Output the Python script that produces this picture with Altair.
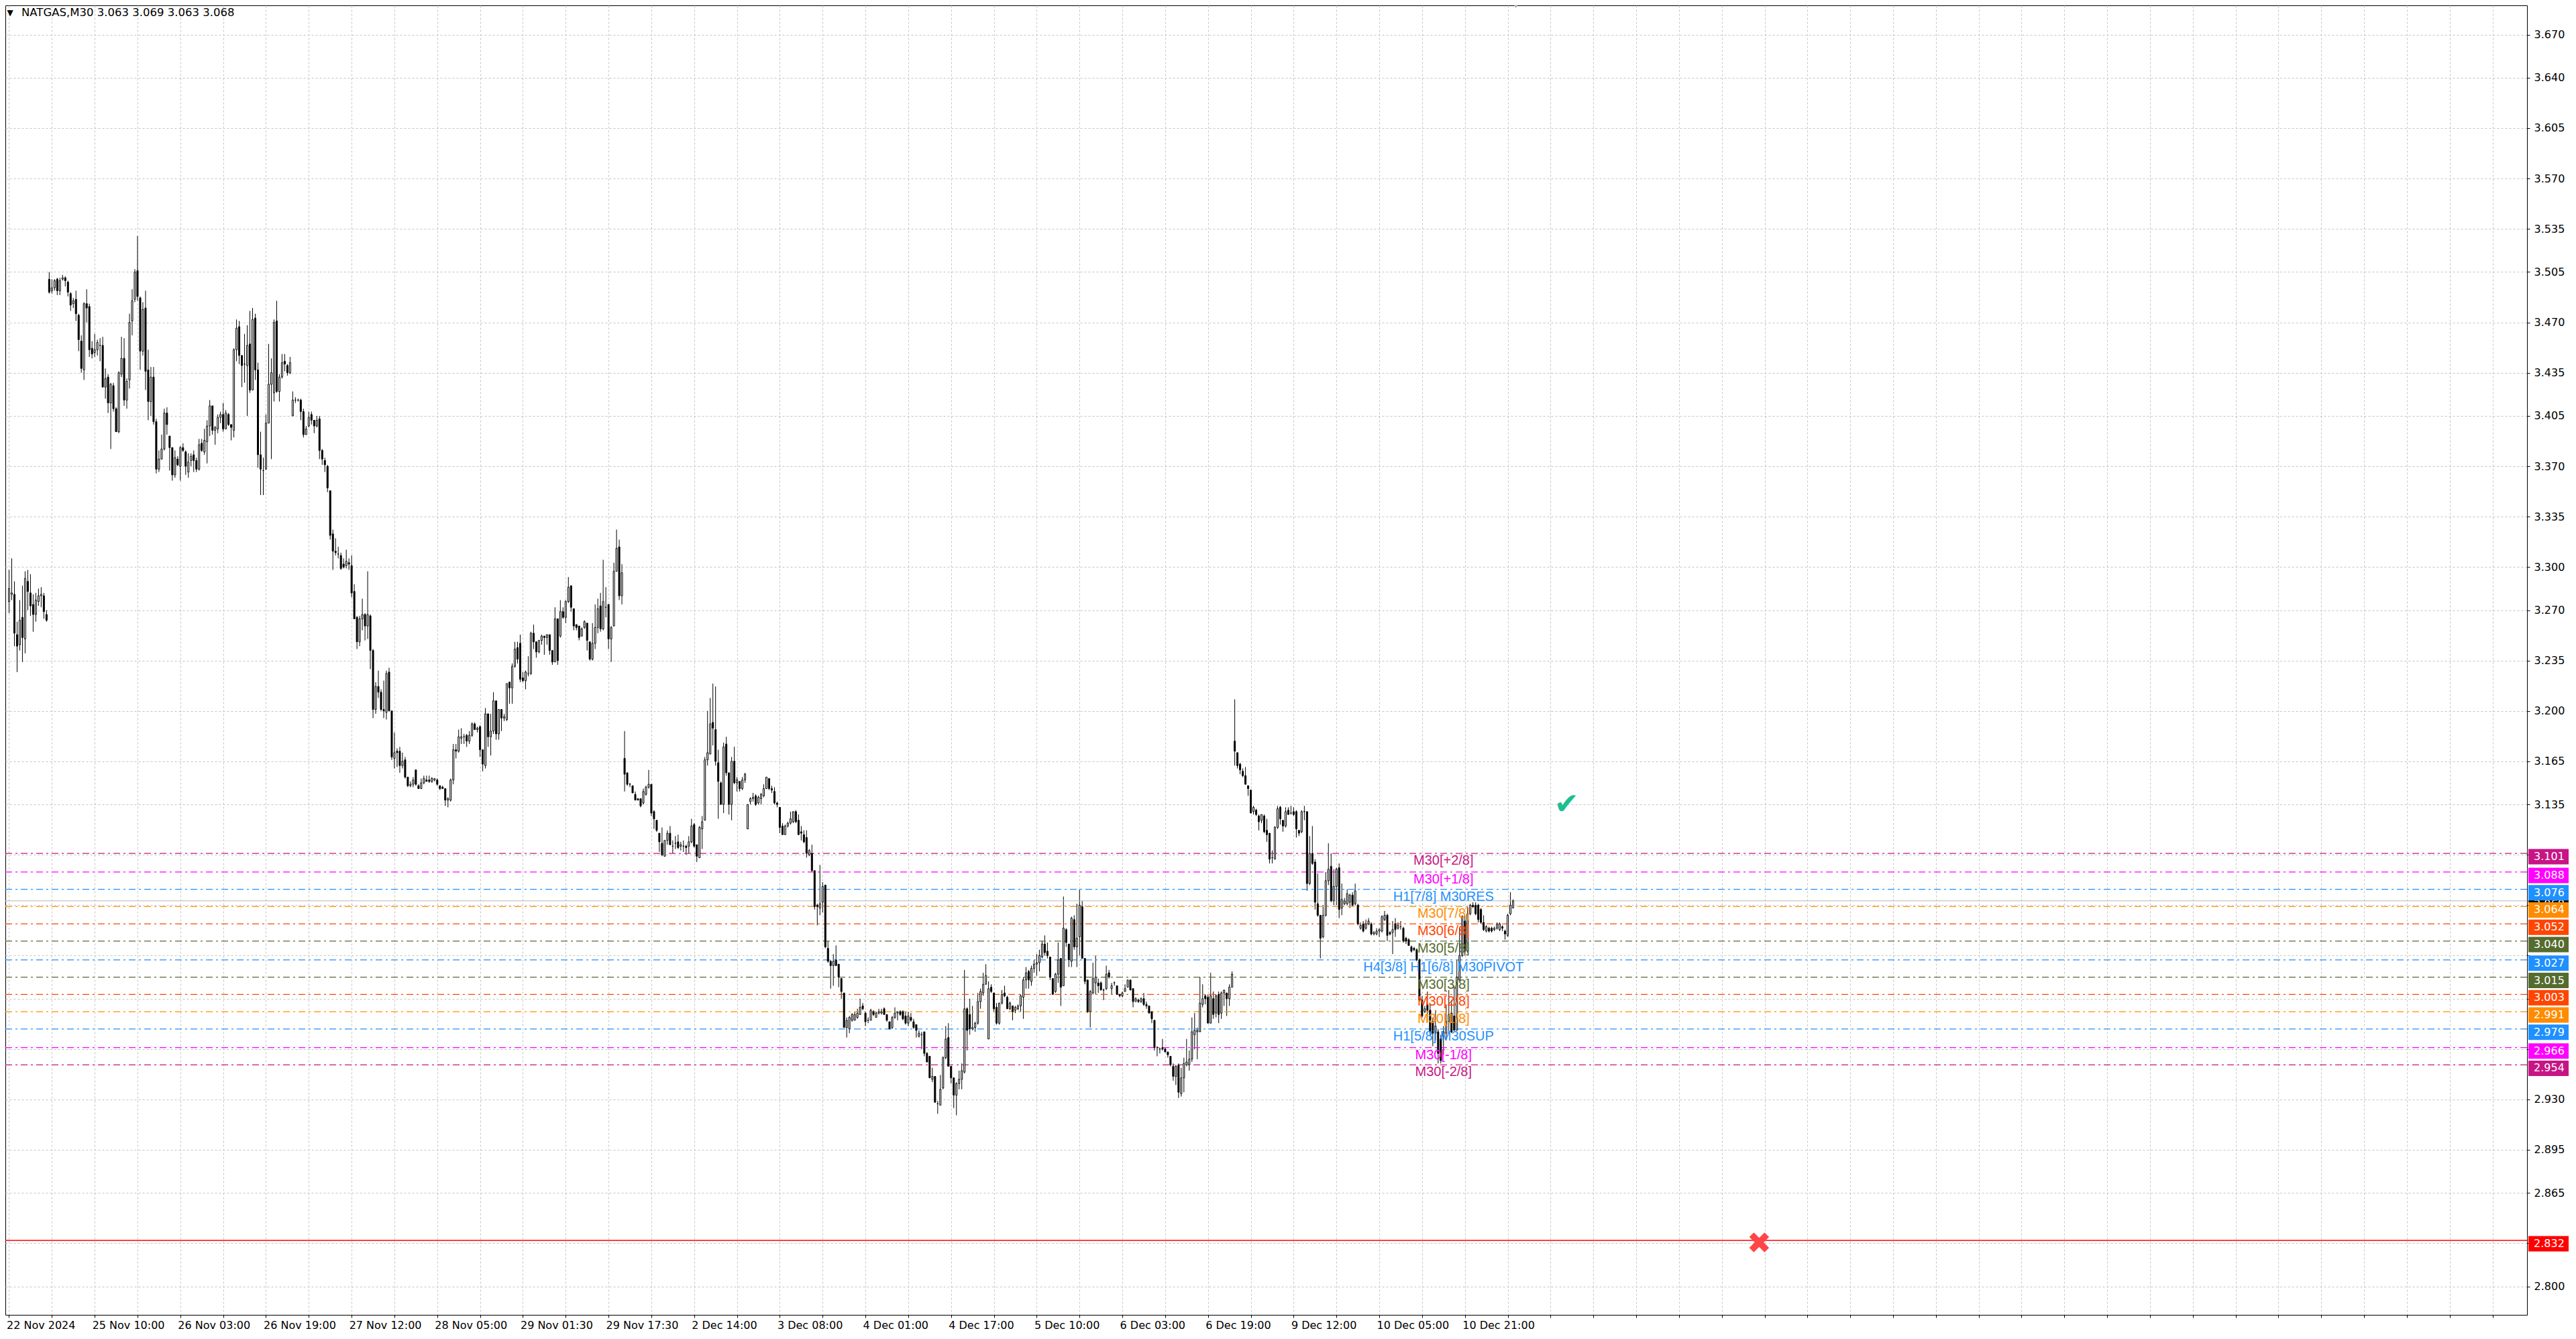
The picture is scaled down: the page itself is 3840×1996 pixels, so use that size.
import altair as alt
import pandas as pd

# NATGAS M30 candles, one per bar index, prices in thousandths
OPEN = [
    3276, 3281, 3281, 3253, 3246, 3265, 3250, 3290, 3282, 3274,
    3267, 3276, 3280, 3280, 3267, 3500, 3492, 3494, 3500, 3492,
    3500, 3501, 3498, 3490, 3483, 3486, 3475, 3457, 3437, 3483,
    3481, 3452, 3449, 3451, 3454, 3454, 3425, 3432, 3414, 3426,
    3410, 3394, 3434, 3445, 3416, 3430, 3471, 3486, 3506, 3487,
    3450, 3480, 3437, 3415, 3432, 3401, 3368, 3375, 3382, 3407,
    3391, 3383, 3364, 3375, 3370, 3383, 3380, 3366, 3374, 3378,
    3374, 3368, 3386, 3380, 3387, 3398, 3412, 3395, 3396, 3404,
    3406, 3396, 3406, 3399, 3395, 3451, 3467, 3447, 3441, 3440,
    3455, 3423, 3473, 3437, 3378, 3367, 3368, 3400, 3427, 3421,
    3471, 3422, 3432, 3443, 3440, 3435, 3405, 3416, 3416, 3416,
    3408, 3392, 3398, 3406, 3402, 3398, 3403, 3381, 3374, 3370,
    3353, 3323, 3311, 3309, 3308, 3302, 3301, 3303, 3301, 3283,
    3265, 3248, 3264, 3267, 3259, 3266, 3242, 3201, 3217, 3213,
    3201, 3199, 3227, 3200, 3167, 3172, 3172, 3162, 3166, 3154,
    3148, 3149, 3159, 3148, 3146, 3150, 3152, 3152, 3151, 3152,
    3152, 3148, 3147, 3146, 3138, 3138, 3152, 3173, 3172, 3181,
    3182, 3183, 3179, 3183, 3191, 3187, 3189, 3173, 3162, 3198,
    3182, 3186, 3207, 3184, 3201, 3195, 3194, 3220, 3216, 3231,
    3244, 3247, 3223, 3221, 3226, 3226, 3254, 3248, 3241, 3249,
    3252, 3251, 3253, 3242, 3234, 3264, 3252, 3269, 3265, 3276,
    3287, 3271, 3260, 3259, 3252, 3258, 3261, 3248, 3236, 3247,
    3258, 3273, 3257, 3272, 3274, 3250, 3259, 3297, 3314, 3280,
    3167, 3157, 3149, 3148, 3142, 3139, 3139, 3136, 3142, 3147,
    3149, 3130, 3124, 3115, 3108, 3099, 3110, 3115, 3106, 3108,
    3109, 3106, 3106, 3106, 3106, 3109, 3121, 3107, 3098, 3118,
    3124, 3166, 3170, 3192, 3187, 3164, 3150, 3135, 3177, 3157,
    3135, 3165, 3150, 3151, 3146, 3152, 3118, 3137, 3139, 3141,
    3136, 3139, 3141, 3146, 3153, 3146, 3144, 3136, 3133, 3120,
    3114, 3120, 3122, 3123, 3130, 3124, 3116, 3114, 3112, 3100,
    3101, 3089, 3065, 3063, 3067, 3079, 3035, 3026, 3023, 3027,
    3024, 3014, 3004, 2980, 2979, 2985, 2985, 2987, 2989, 2995,
    2990, 2985, 2985, 2991, 2987, 2990, 2990, 2993, 2989, 2984,
    2980, 2987, 2990, 2991, 2991, 2988, 2983, 2987, 2984, 2982,
    2974, 2975, 2977, 2962, 2960, 2944, 2946, 2927, 2926, 2938,
    2959, 2973, 2953, 2945, 2933, 2941, 2944, 2949, 2993, 2989,
    2979, 2980, 2983, 2998, 3004, 3010, 2972, 3008, 3004, 2994,
    2983, 2997, 3004, 3001, 2993, 2995, 2992, 2993, 2995, 3001,
    3013, 3019, 3012, 3021, 3024, 3025, 3029, 3038, 3033, 3029,
    3014, 3005, 3017, 3028, 3009, 3048, 3038, 3026, 3055, 3036,
    3043, 3064, 3028, 3013, 2991, 3004, 3011, 3011, 3011, 3006,
    3007, 3018, 3007, 3011, 3009, 3003, 3002, 3005, 3008, 3013,
    3007, 2998, 2999, 2998, 3000, 2996, 2995, 2991, 2985, 2966,
    2965, 2966, 2965, 2963, 2960, 2953, 2946, 2954, 2934, 2945,
    2954, 2954, 2958, 2975, 2977, 2977, 2996, 3002, 3001, 2983,
    3000, 2990, 3003, 2990, 3004, 3004, 3000, 3008, 3179, 3171,
    3163, 3158, 3155, 3148, 3145, 3130, 3131, 3127, 3124, 3127,
    3117, 3115, 3098, 3097, 3119, 3133, 3124, 3120, 3131, 3129,
    3130, 3130, 3117, 3116, 3130, 3130, 3080, 3101, 3095, 3066,
    3058, 3043, 3058, 3082, 3092, 3068, 3078, 3091, 3063, 3066,
    3066, 3067, 3072, 3066, 3065, 3049, 3052, 3049, 3052, 3052,
    3045, 3045, 3047, 3047, 3055, 3058, 3046, 3046, 3052, 3049,
    3050, 3049, 3042, 3041, 3036, 3035, 3034, 3027, 2999, 2991,
    2996, 2992, 2984, 2976, 2977, 2972, 2974, 2976, 2984, 2990,
    2988, 2978, 3013, 3030, 3054, 3033, 3059, 3065, 3065, 3065,
    3062, 3053, 3047, 3049, 3049, 3048, 3049, 3048, 3050, 3047,
    3044, 3059, 3063,
]
HIGH = [
    3298, 3306, 3290, 3262, 3277, 3287, 3297, 3298, 3295, 3281,
    3282, 3285, 3286, 3282, 3270, 3505, 3500, 3500, 3501, 3501,
    3503, 3502, 3499, 3491, 3487, 3492, 3476, 3461, 3484, 3493,
    3483, 3457, 3462, 3458, 3459, 3460, 3438, 3434, 3428, 3428,
    3411, 3436, 3460, 3459, 3431, 3476, 3493, 3507, 3530, 3488,
    3484, 3492, 3451, 3439, 3439, 3403, 3381, 3392, 3410, 3411,
    3391, 3383, 3381, 3377, 3384, 3386, 3381, 3379, 3379, 3381,
    3376, 3389, 3389, 3396, 3402, 3416, 3412, 3398, 3406, 3408,
    3414, 3409, 3407, 3399, 3452, 3472, 3471, 3447, 3462, 3468,
    3478, 3480, 3476, 3442, 3394, 3376, 3406, 3455, 3445, 3472,
    3485, 3434, 3448, 3448, 3441, 3446, 3422, 3418, 3417, 3417,
    3410, 3398, 3408, 3408, 3402, 3405, 3405, 3382, 3376, 3371,
    3353, 3326, 3320, 3314, 3310, 3306, 3312, 3306, 3308, 3288,
    3266, 3266, 3278, 3268, 3297, 3267, 3243, 3220, 3228, 3215,
    3221, 3228, 3230, 3200, 3185, 3174, 3175, 3171, 3168, 3154,
    3151, 3154, 3159, 3149, 3153, 3155, 3155, 3155, 3154, 3153,
    3153, 3148, 3148, 3146, 3140, 3153, 3177, 3177, 3187, 3188,
    3184, 3184, 3186, 3192, 3192, 3189, 3190, 3173, 3202, 3198,
    3198, 3213, 3207, 3201, 3201, 3198, 3219, 3220, 3233, 3248,
    3248, 3253, 3227, 3228, 3238, 3255, 3260, 3248, 3249, 3253,
    3252, 3253, 3253, 3242, 3272, 3264, 3277, 3272, 3277, 3293,
    3287, 3271, 3260, 3259, 3258, 3263, 3261, 3248, 3261, 3274,
    3278, 3282, 3305, 3286, 3274, 3259, 3303, 3326, 3319, 3302,
    3186, 3157, 3150, 3148, 3144, 3139, 3139, 3146, 3148, 3159,
    3149, 3131, 3124, 3115, 3119, 3110, 3117, 3120, 3110, 3113,
    3114, 3109, 3110, 3107, 3113, 3125, 3122, 3107, 3120, 3127,
    3168, 3200, 3209, 3219, 3217, 3173, 3151, 3178, 3182, 3157,
    3168, 3175, 3154, 3151, 3154, 3157, 3135, 3140, 3143, 3142,
    3141, 3143, 3149, 3154, 3153, 3148, 3147, 3137, 3133, 3122,
    3121, 3123, 3130, 3130, 3131, 3128, 3120, 3117, 3117, 3104,
    3107, 3089, 3066, 3093, 3081, 3079, 3040, 3027, 3031, 3037,
    3024, 3014, 3004, 2987, 2988, 2990, 2991, 2993, 3000, 2997,
    2991, 2987, 2993, 2992, 2991, 2993, 2993, 2994, 2989, 2984,
    2988, 2994, 2991, 2992, 2992, 2991, 2991, 2990, 2986, 2982,
    2978, 2977, 2977, 2963, 2960, 2952, 2946, 2929, 2947, 2960,
    2981, 2983, 2953, 2945, 2942, 2950, 2955, 3020, 2994, 3000,
    2995, 2984, 3004, 3007, 3018, 3024, 3012, 3010, 3004, 2997,
    2997, 3006, 3009, 3002, 2998, 2995, 2995, 2996, 3003, 3015,
    3022, 3020, 3023, 3027, 3031, 3034, 3040, 3044, 3039, 3029,
    3014, 3018, 3039, 3028, 3071, 3049, 3038, 3057, 3058, 3066,
    3076, 3068, 3028, 3013, 3006, 3025, 3030, 3014, 3012, 3007,
    3023, 3020, 3011, 3012, 3009, 3003, 3005, 3010, 3013, 3013,
    3007, 3001, 3000, 3001, 3004, 2998, 2995, 2991, 2985, 2967,
    2966, 2972, 2966, 2963, 2960, 2955, 2954, 2955, 2952, 2959,
    2972, 2964, 2987, 2990, 2980, 3015, 3010, 3003, 3003, 3018,
    3005, 3003, 3005, 3005, 3006, 3004, 3010, 3019, 3208, 3171,
    3164, 3160, 3161, 3148, 3145, 3134, 3132, 3128, 3128, 3128,
    3125, 3115, 3103, 3120, 3134, 3134, 3124, 3133, 3133, 3134,
    3133, 3131, 3117, 3131, 3134, 3130, 3113, 3120, 3097, 3087,
    3058, 3065, 3088, 3108, 3101, 3090, 3091, 3094, 3080, 3070,
    3076, 3073, 3074, 3080, 3066, 3053, 3054, 3055, 3056, 3053,
    3047, 3049, 3049, 3058, 3061, 3059, 3047, 3054, 3056, 3053,
    3054, 3050, 3043, 3042, 3037, 3036, 3035, 3028, 3002, 2995,
    3005, 2996, 2987, 2992, 2979, 2975, 2981, 2996, 3006, 2999,
    3009, 3027, 3049, 3058, 3058, 3064, 3066, 3067, 3067, 3066,
    3063, 3058, 3051, 3050, 3050, 3050, 3053, 3053, 3051, 3048,
    3059, 3074, 3069,
]
LOW = [
    3268, 3277, 3245, 3227, 3242, 3234, 3240, 3270, 3266, 3255,
    3262, 3273, 3272, 3264, 3262, 3490, 3490, 3492, 3489, 3489,
    3499, 3495, 3488, 3478, 3480, 3471, 3450, 3435, 3430, 3470,
    3446, 3445, 3446, 3447, 3443, 3425, 3417, 3407, 3382, 3408,
    3394, 3393, 3432, 3412, 3410, 3424, 3461, 3484, 3485, 3437,
    3447, 3423, 3402, 3405, 3399, 3365, 3366, 3375, 3381, 3392,
    3367, 3360, 3362, 3370, 3360, 3380, 3364, 3362, 3370, 3366,
    3366, 3367, 3380, 3378, 3372, 3391, 3392, 3385, 3393, 3400,
    3394, 3396, 3398, 3388, 3390, 3443, 3441, 3425, 3428, 3405,
    3421, 3423, 3430, 3369, 3350, 3350, 3368, 3400, 3375, 3415,
    3421, 3415, 3431, 3436, 3433, 3434, 3405, 3414, 3415, 3402,
    3390, 3392, 3397, 3399, 3393, 3397, 3375, 3371, 3366, 3352,
    3319, 3298, 3308, 3306, 3298, 3299, 3299, 3298, 3279, 3264,
    3243, 3245, 3256, 3249, 3250, 3229, 3195, 3198, 3209, 3200,
    3195, 3194, 3200, 3166, 3160, 3161, 3157, 3160, 3153, 3147,
    3147, 3147, 3148, 3146, 3146, 3149, 3151, 3150, 3150, 3151,
    3148, 3145, 3146, 3134, 3133, 3137, 3149, 3167, 3171, 3177,
    3177, 3175, 3177, 3182, 3187, 3185, 3168, 3158, 3160, 3175,
    3169, 3184, 3180, 3180, 3186, 3193, 3193, 3205, 3205, 3230,
    3233, 3220, 3220, 3215, 3224, 3225, 3243, 3237, 3240, 3246,
    3239, 3246, 3239, 3232, 3234, 3232, 3251, 3264, 3261, 3275,
    3269, 3256, 3256, 3249, 3252, 3257, 3242, 3235, 3235, 3243,
    3254, 3255, 3256, 3265, 3243, 3234, 3259, 3297, 3277, 3274,
    3144, 3148, 3147, 3143, 3138, 3138, 3133, 3135, 3141, 3146,
    3127, 3118, 3116, 3102, 3099, 3099, 3107, 3107, 3101, 3104,
    3104, 3103, 3102, 3100, 3101, 3108, 3105, 3095, 3098, 3104,
    3124, 3162, 3170, 3176, 3162, 3125, 3135, 3129, 3155, 3128,
    3124, 3149, 3144, 3144, 3145, 3150, 3118, 3135, 3137, 3134,
    3135, 3135, 3140, 3146, 3145, 3143, 3135, 3133, 3115, 3114,
    3114, 3119, 3121, 3122, 3122, 3114, 3110, 3108, 3098, 3099,
    3088, 3062, 3051, 3058, 3060, 3035, 3025, 3007, 3009, 3023,
    3008, 3000, 2980, 2973, 2976, 2984, 2985, 2986, 2989, 2992,
    2981, 2983, 2985, 2988, 2987, 2989, 2989, 2989, 2984, 2979,
    2979, 2986, 2985, 2988, 2985, 2982, 2981, 2984, 2979, 2973,
    2973, 2965, 2960, 2956, 2945, 2942, 2928, 2920, 2926, 2937,
    2958, 2953, 2941, 2924, 2919, 2937, 2937, 2948, 2964, 2975,
    2978, 2977, 2982, 2993, 3002, 3010, 2972, 3004, 2991, 2982,
    2982, 2996, 3001, 2993, 2992, 2985, 2990, 2992, 2991, 2986,
    3007, 3007, 3009, 3018, 3016, 3019, 3028, 3030, 3028, 3013,
    3003, 3004, 3011, 2995, 3009, 3036, 3022, 3022, 3034, 3022,
    3030, 3028, 3010, 2990, 2980, 3003, 3003, 3004, 3006, 2999,
    3006, 3014, 3003, 3009, 3003, 3001, 3001, 3005, 3008, 3006,
    2994, 2998, 2997, 2997, 2995, 2993, 2990, 2983, 2964, 2960,
    2962, 2964, 2963, 2959, 2953, 2943, 2940, 2931, 2932, 2935,
    2953, 2950, 2956, 2965, 2958, 2977, 2994, 2996, 2983, 2983,
    2986, 2987, 2983, 2986, 2995, 2988, 2995, 3008, 3162, 3160,
    3156, 3154, 3149, 3141, 3129, 3128, 3127, 3117, 3122, 3115,
    3109, 3094, 3094, 3097, 3118, 3121, 3116, 3119, 3128, 3128,
    3127, 3112, 3113, 3115, 3124, 3075, 3079, 3093, 3062, 3057,
    3028, 3042, 3057, 3079, 3067, 3065, 3065, 3056, 3058, 3065,
    3065, 3063, 3064, 3065, 3051, 3048, 3046, 3048, 3051, 3044,
    3044, 3044, 3043, 3046, 3054, 3040, 3044, 3031, 3043, 3048,
    3048, 3039, 3038, 3037, 3032, 3033, 3026, 2998, 2987, 2990,
    2984, 2974, 2967, 2971, 2955, 2955, 2961, 2971, 2976, 2976,
    2978, 2978, 3012, 3029, 3030, 3032, 3058, 3063, 3058, 3053,
    3052, 3047, 3046, 3046, 3046, 3047, 3048, 3047, 3047, 3041,
    3043, 3058, 3063,
]
CLOSE = [
    3285, 3282, 3254, 3245, 3263, 3251, 3292, 3283, 3273, 3267,
    3277, 3280, 3281, 3269, 3263, 3491, 3494, 3499, 3492, 3499,
    3501, 3499, 3491, 3482, 3485, 3476, 3458, 3438, 3483, 3480,
    3451, 3448, 3451, 3456, 3454, 3425, 3431, 3414, 3427, 3410,
    3394, 3435, 3445, 3416, 3429, 3470, 3485, 3505, 3488, 3450,
    3479, 3436, 3415, 3432, 3401, 3368, 3375, 3382, 3407, 3399,
    3383, 3364, 3376, 3371, 3383, 3381, 3370, 3373, 3377, 3374,
    3368, 3385, 3381, 3388, 3398, 3412, 3395, 3397, 3404, 3406,
    3396, 3407, 3399, 3397, 3451, 3466, 3447, 3440, 3441, 3454,
    3423, 3472, 3437, 3378, 3368, 3367, 3400, 3427, 3435, 3470,
    3422, 3432, 3442, 3441, 3435, 3442, 3416, 3416, 3416, 3408,
    3392, 3396, 3404, 3402, 3398, 3402, 3381, 3375, 3371, 3355,
    3322, 3311, 3310, 3309, 3299, 3300, 3304, 3302, 3282, 3264,
    3248, 3264, 3267, 3259, 3267, 3242, 3201, 3217, 3213, 3201,
    3200, 3226, 3200, 3168, 3171, 3171, 3162, 3165, 3154, 3148,
    3149, 3152, 3149, 3146, 3150, 3153, 3151, 3151, 3153, 3153,
    3149, 3146, 3146, 3138, 3139, 3152, 3173, 3172, 3182, 3182,
    3182, 3179, 3183, 3191, 3187, 3188, 3173, 3163, 3198, 3182,
    3186, 3207, 3184, 3201, 3195, 3196, 3219, 3216, 3231, 3243,
    3236, 3222, 3221, 3227, 3226, 3254, 3248, 3241, 3249, 3252,
    3251, 3253, 3242, 3234, 3264, 3235, 3269, 3265, 3276, 3286,
    3272, 3259, 3258, 3251, 3257, 3262, 3249, 3236, 3247, 3258,
    3271, 3257, 3276, 3272, 3250, 3258, 3297, 3313, 3280, 3296,
    3156, 3149, 3149, 3143, 3138, 3138, 3134, 3144, 3147, 3149,
    3129, 3125, 3117, 3109, 3100, 3110, 3115, 3107, 3106, 3108,
    3105, 3107, 3106, 3105, 3109, 3120, 3106, 3099, 3119, 3123,
    3166, 3171, 3191, 3188, 3165, 3151, 3135, 3175, 3157, 3135,
    3165, 3150, 3152, 3146, 3152, 3156, 3135, 3139, 3140, 3135,
    3140, 3142, 3146, 3154, 3146, 3145, 3136, 3135, 3119, 3114,
    3120, 3122, 3125, 3130, 3123, 3114, 3115, 3109, 3101, 3103,
    3089, 3064, 3064, 3066, 3078, 3036, 3026, 3023, 3026, 3023,
    3015, 3005, 2980, 2985, 2987, 2989, 2989, 2990, 2994, 2993,
    2984, 2985, 2992, 2989, 2990, 2991, 2991, 2989, 2985, 2979,
    2987, 2990, 2991, 2989, 2986, 2983, 2988, 2985, 2980, 2978,
    2976, 2975, 2962, 2956, 2945, 2946, 2928, 2927, 2937, 2959,
    2972, 2953, 2945, 2933, 2941, 2944, 2950, 2993, 2978, 2979,
    2980, 2983, 2998, 3005, 3010, 3016, 3007, 3005, 2993, 2983,
    2997, 3003, 3002, 2993, 2997, 2991, 2994, 2995, 3002, 3013,
    3018, 3013, 3021, 3024, 3025, 3030, 3038, 3032, 3030, 3015,
    3003, 3017, 3027, 3008, 3049, 3039, 3027, 3056, 3036, 3042,
    3065, 3028, 3012, 2991, 3005, 3014, 3015, 3009, 3006, 3006,
    3017, 3015, 3009, 3011, 3003, 3002, 3004, 3007, 3013, 3006,
    2998, 3000, 2998, 3000, 2996, 2995, 2990, 2986, 2966, 2966,
    2965, 2965, 2963, 2961, 2954, 2946, 2953, 2935, 2945, 2955,
    2956, 2958, 2977, 2978, 2978, 2997, 3000, 3000, 2983, 3002,
    2989, 3002, 2989, 3004, 3006, 3000, 3008, 3017, 3172, 3162,
    3159, 3155, 3149, 3146, 3129, 3133, 3128, 3123, 3128, 3116,
    3114, 3097, 3098, 3119, 3132, 3125, 3120, 3130, 3128, 3129,
    3128, 3118, 3115, 3130, 3130, 3080, 3101, 3094, 3067, 3058,
    3042, 3058, 3082, 3090, 3068, 3078, 3090, 3062, 3069, 3068,
    3073, 3072, 3065, 3075, 3052, 3051, 3047, 3052, 3054, 3045,
    3046, 3047, 3048, 3057, 3058, 3044, 3045, 3048, 3048, 3051,
    3050, 3040, 3040, 3037, 3033, 3034, 3027, 2999, 2988, 2993,
    2992, 2977, 2976, 2981, 2962, 2957, 2977, 2984, 2989, 2977,
    2978, 3015, 3030, 3057, 3033, 3059, 3065, 3064, 3059, 3055,
    3053, 3048, 3050, 3047, 3047, 3049, 3052, 3052, 3049, 3045,
    3058, 3065, 3068,
]

TITLE_TEXT = "NATGAS,M30  3.063 3.069 3.063 3.068"

# bottom axis: one label every 32 bars, grid every 16 bars
TIME_LABELS = ["22 Nov 2024", "25 Nov 10:00", "26 Nov 03:00", "26 Nov 19:00",
               "27 Nov 12:00", "28 Nov 05:00", "29 Nov 01:30", "29 Nov 17:30",
               "2 Dec 14:00", "3 Dec 08:00", "4 Dec 01:00", "4 Dec 17:00",
               "5 Dec 10:00", "6 Dec 03:00", "6 Dec 19:00", "9 Dec 12:00",
               "10 Dec 05:00", "10 Dec 21:00"]
LABEL_STEP = 32
GRID_STEP = 16

PRICE_TICKS = [3.670, 3.640, 3.605, 3.570, 3.535, 3.505, 3.470, 3.435, 3.405,
               3.370, 3.335, 3.300, 3.270, 3.235, 3.200, 3.165, 3.135, 3.100,
               3.065, 3.030, 3.000, 2.965, 2.930, 2.895, 2.865, 2.830, 2.800]
HIDDEN_TICKS = [3.100, 3.065, 3.030, 3.000, 2.965, 2.830]

# Murrey math levels
LEVEL_NAMES = ["M30[+2/8]", "M30[+1/8]", "H1[7/8] M30RES", "M30[7/8]", "M30[6/8]",
               "M30[5/8]", "H4[3/8] H1[6/8] M30PIVOT", "M30[3/8]", "M30[2/8]",
               "M30[1/8]", "H1[5/8] M30SUP", "M30[-1/8]", "M30[-2/8]"]
LEVEL_PRICES = [3.101, 3.088, 3.076, 3.064, 3.052, 3.040, 3.027, 3.015, 3.003,
                2.991, 2.979, 2.966, 2.954]
LEVEL_COLORS = ["#c71585", "#ff00ff", "#1e90ff", "#ff8c00", "#ff4500", "#556b2f",
                "#1e90ff", "#556b2f", "#ff4500", "#ff8c00", "#1e90ff", "#ff00ff",
                "#c71585"]
LEVEL_LABEL_BAR = 536

BID_PRICE = 3.068
STOP_PRICE = 2.832
SHIFT_BAR = 563

MARK_BARS = [582, 654]
MARK_PRICES = [3.1346, 2.8292]
MARK_GLYPHS = ["\u2714", "\u2716"]
MARK_COLORS = ["#1dbf8f", "#ff4545"]

W, H = 3759, 1952
PX_PER_PRICE = H / (3.6903 - 2.7803)

candles = pd.DataFrame({
    "bar": range(len(OPEN)),
    "open": [v / 1000 for v in OPEN],
    "high": [v / 1000 for v in HIGH],
    "low": [v / 1000 for v in LOW],
    "close": [v / 1000 for v in CLOSE],
})
levels = pd.DataFrame({"name": LEVEL_NAMES, "price": LEVEL_PRICES,
                       "color": LEVEL_COLORS, "bar": LEVEL_LABEL_BAR})
marks = pd.DataFrame({"bar": MARK_BARS, "price": MARK_PRICES,
                      "glyph": MARK_GLYPHS, "color": MARK_COLORS})


def tag_frame(prices, colors):
    df = pd.DataFrame({"price": prices, "color": colors})
    df["label"] = df["price"].map(lambda p: f"{p:.3f}")
    return df


bid_tag = tag_frame([BID_PRICE], ["#000000"])
level_tags = tag_frame(LEVEL_PRICES + [STOP_PRICE], LEVEL_COLORS + ["#ff0000"])

xs = alt.Scale(domain=[-0.125, -0.125 + W / 4], nice=False, zero=False)
ys = alt.Scale(domain=[2.7803, 3.6903], nice=False, zero=False)

js_labels = "[" + ",".join(f"'{t}'" for t in TIME_LABELS) + "]"
x_label_expr = (f"datum.value % {LABEL_STEP} == 0 && datum.value / {LABEL_STEP} < {len(TIME_LABELS)}"
                f" ? {js_labels}[datum.value / {LABEL_STEP}] : ''")
hidden_js = "[" + ",".join(str(v) for v in HIDDEN_TICKS) + "]"
y_label_expr = f"indexof({hidden_js}, datum.value) >= 0 ? '' : format(datum.value, '.3f')"

x_axis = alt.Axis(values=list(range(0, 940, GRID_STEP)), labelExpr=x_label_expr,
                  labelAlign="left", labelBaseline="top", labelPadding=3, labelOffset=-4,
                  labelFont="DejaVu Sans", labelFontSize=16, labelColor="black",
                  labelOverlap=False, labelFlush=False, tickSize=4, tickColor="black",
                  domainColor="black", grid=True, gridColor="#c4c4c4", gridDash=[3, 3])
y_axis = alt.Axis(orient="right", values=PRICE_TICKS, labelExpr=y_label_expr,
                  labelPadding=6, labelFont="DejaVu Sans", labelFontSize=16,
                  labelColor="black", labelOverlap=False, labelFlush=False,
                  tickSize=4, tickColor="black", domainColor="black",
                  grid=True, gridColor="#c4c4c4", gridDash=[3, 3])

# candle wicks carry the axes
wicks = alt.Chart(candles).mark_rule(color="black", strokeWidth=1).encode(
    x=alt.X("bar:Q", scale=xs, axis=x_axis, title=None),
    y=alt.Y("low:Q", scale=ys, axis=y_axis, title=None),
    y2="high:Q",
)
bodies = alt.Chart(candles).mark_bar(width=2, stroke="black", strokeWidth=1).encode(
    x=alt.X("bar:Q", title=None),
    y=alt.Y("open:Q", title=None),
    y2="close:Q",
    fill=alt.condition("datum.close > datum.open", alt.value("white"), alt.value("black")),
)

bid_line = alt.Chart(pd.DataFrame({"price": [BID_PRICE]})).mark_rule(
    color="#b8b8b8", strokeWidth=1).encode(y=alt.Y("price:Q", title=None))
level_lines = alt.Chart(levels).mark_rule(strokeWidth=1.2, strokeDash=[10, 5, 3, 5]).encode(
    y=alt.Y("price:Q", title=None),
    color=alt.Color("color:N", scale=None),
)
stop_line = alt.Chart(pd.DataFrame({"price": [STOP_PRICE]})).mark_rule(
    color="#ff0000", strokeWidth=1.5).encode(y=alt.Y("price:Q", title=None))

level_text = alt.Chart(levels).mark_text(
    align="center", baseline="top", dy=1, font="Liberation Sans", fontSize=20
).encode(
    x=alt.X("bar:Q", title=None),
    y=alt.Y("price:Q", title=None),
    text="name:N",
    color=alt.Color("color:N", scale=None),
)

mark_glyphs = alt.Chart(marks).mark_text(
    align="center", baseline="middle", font="DejaVu Sans", fontSize=44
).encode(
    x=alt.X("bar:Q", title=None),
    y=alt.Y("price:Q", title=None),
    text="glyph:N",
    color=alt.Color("color:N", scale=None),
)

# chart shift marker on the top edge
shift_mark = alt.Chart(pd.DataFrame({"bar": [SHIFT_BAR]})).mark_point(
    shape="triangle-down", filled=True, color="#a8a8a8", size=50, opacity=1
).encode(x=alt.X("bar:Q", title=None), y=alt.value(1))

# price tags on the right scale
box_half = 11.5 / PX_PER_PRICE
box_shift = 5 / PX_PER_PRICE


def tag_layers(df):
    boxes = alt.Chart(df).transform_calculate(
        top=f"datum.price + {box_half} - {box_shift}",
        bottom=f"datum.price - {box_half} - {box_shift}",
    ).mark_rect().encode(
        x=alt.value(W + 2), x2=alt.value(W + 62),
        y=alt.Y("top:Q", title=None), y2="bottom:Q",
        color=alt.Color("color:N", scale=None),
    )
    labels = alt.Chart(df).transform_calculate(
        mid=f"datum.price - {box_shift}"
    ).mark_text(align="left", baseline="middle", font="DejaVu Sans", fontSize=16,
                color="white").encode(
        x=alt.value(W + 10),
        y=alt.Y("mid:Q", title=None),
        text="label:N",
    )
    return boxes, labels


bid_box, bid_label = tag_layers(bid_tag)
lvl_box, lvl_label = tag_layers(level_tags)

title_df = pd.DataFrame({"t": [TITLE_TEXT]})
title_arrow = alt.Chart(title_df).mark_text(
    text="\u25bc", font="DejaVu Sans", fontSize=12, color="black", baseline="middle"
).encode(x=alt.value(7), y=alt.value(11))
title_text = alt.Chart(title_df).mark_text(
    align="left", baseline="middle", font="DejaVu Sans", fontSize=16.5, color="black"
).encode(x=alt.value(24), y=alt.value(11), text="t:N")

chart = alt.layer(
    wicks, bid_line, level_lines, stop_line, bodies, level_text, mark_glyphs,
    shift_mark, bid_box, bid_label, lvl_box, lvl_label, title_arrow, title_text,
).properties(
    width=W,
    height=H,
    background="white",
    autosize=alt.AutoSizeParams(type="none"),
    padding={"left": 0, "top": 0, "right": 65, "bottom": 28},
).configure_view(
    stroke="black", strokeWidth=1
)

chart.save("out.html", embed_options={"renderer": "svg", "actions": False})
